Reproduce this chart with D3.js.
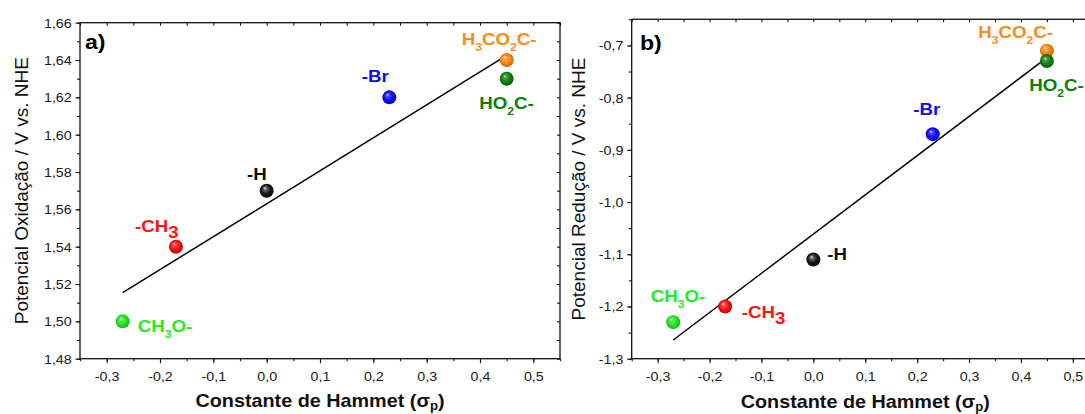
<!DOCTYPE html>
<html>
<head>
<meta charset="utf-8">
<script src="https://cdn.jsdelivr.net/npm/d3@7"></script>
<style>
  html, body { margin: 0; padding: 0; background: #fff; }
  svg { display: block; }
</style>
</head>
<body>
<script>
// ---- data -------------------------------------------------------------
const substituents = ["CH3O-", "-CH3", "-H", "-Br", "H3CO2C-", "HO2C-"];
const hammettSigmaP = [-0.27, -0.17, 0.00, 0.23, 0.45, 0.45];
const oxidationPotential = [1.50, 1.54, 1.57, 1.62, 1.64, 1.63];
const reductionPotential = [-1.23, -1.20, -1.11, -0.87, -0.71, -0.73];

const sigmaTicks = [-0.3, -0.2, -0.1, 0.0, 0.1, 0.2, 0.3, 0.4, 0.5];
const oxidationTicks = [1.48, 1.50, 1.52, 1.54, 1.56, 1.58, 1.60, 1.62, 1.64, 1.66];
const reductionTicks = [-1.3, -1.2, -1.1, -1.0, -0.9, -0.8, -0.7];

const panelLetters = ["a)", "b)"];
const yTitles = ["Potencial Oxidação / V vs. NHE", "Potencial Redução / V vs. NHE"];
const xTitleMain = "Constante de Hammet (σ";
const xTitleSub = "p";
const xTitleEnd = ")";

// ---- styles -------------------------------------------------------------
const FONT = "'Liberation Sans', Arial, Helvetica, sans-serif";
const SX = 1.1; // horizontal text stretch
const markerColor = {
  "CH3O-": "#22e622",
  "-CH3": "#f01010",
  "-H": "#141414",
  "-Br": "#0a0af5",
  "H3CO2C-": "#ff8412",
  "HO2C-": "#0c7f0c"
};
const labelColor = {
  "CH3O-": "#22ee22",
  "-CH3": "#ff1414",
  "-H": "#111111",
  "-Br": "#0a0aff",
  "H3CO2C-": "#ff8a1a",
  "HO2C-": "#0a800a"
};
// subscript size for each label (the methyl label uses a full-size digit)
const subSize = { "-CH3": 17 };

const locale = d3.formatLocale({
  decimal: ",", thousands: ".", grouping: [3], currency: ["", ""], minus: "-"
});

const panels = [
  {
    values: oxidationPotential,
    yTicks: oxidationTicks,
    yDomain: [1.48, 1.66],
    yMinorStep: 0.01,
    yFormat: locale.format(".2f"),
    xRange: [80, 560],
    yRange: [358.7, 22.7],
    letter: panelLetters[0],
    letterPos: [85, 49],
    yTitle: yTitles[0],
    yTitleX: 28,
    xTitleY: 407,
    labelOffset: {
      "CH3O-": [15, 10.4],
      "-CH3": [-41, -15],
      "-H": [-19.7, -10.5],
      "-Br": [-27.6, -15.6],
      "H3CO2C-": [-45, -15],
      "HO2C-": [-27.4, 30.6]
    }
  },
  {
    values: reductionPotential,
    yTicks: reductionTicks,
    yDomain: [-1.3, -0.65],
    yMinorStep: 0.05,
    yFormat: locale.format(".1f"),
    xRange: [631.7, 1098.8],
    yRange: [358.7, 19.3],
    letter: panelLetters[1],
    letterPos: [640, 50],
    yTitle: yTitles[1],
    yTitleX: 585,
    xTitleY: 408,
    labelOffset: {
      "CH3O-": [-22.5, -20],
      "-CH3": [16.6, 12],
      "-H": [14, 1],
      "-Br": [-19.4, -19],
      "H3CO2C-": [-68.6, -13],
      "HO2C-": [-17.6, 30]
    }
  }
];

const svg = d3.select("body").append("svg")
  .attr("width", 1085).attr("height", 414)
  .attr("font-family", FONT);

// shaded sphere gradients
const defs = svg.append("defs");
substituents.forEach((s, i) => {
  const c = markerColor[s];
  const g = defs.append("radialGradient").attr("id", "ball" + i)
    .attr("cx", "50%").attr("cy", "50%").attr("r", "55%")
    .attr("fx", "36%").attr("fy", "30%");
  const light = s === "-H" ? "#e0e0e0" : d3.interpolateRgb(c, "#ffffff")(0.8);
  g.append("stop").attr("offset", "0%").attr("stop-color", light);
  g.append("stop").attr("offset", "22%").attr("stop-color", d3.interpolateRgb(c, "#ffffff")(s === "-H" ? 0.35 : 0.25));
  g.append("stop").attr("offset", "60%").attr("stop-color", c);
  g.append("stop").attr("offset", "100%").attr("stop-color", d3.color(c).darker(0.9));
});

function stretchedText(parent, x, y, extra) {
  return parent.append("text")
    .attr("transform", `translate(${x},${y}) scale(${SX},1)` + (extra || ""));
}

function chemLabel(parent, name, x, y) {
  const t = stretchedText(parent, x, y)
    .attr("font-size", 17).attr("font-weight", "bold")
    .attr("fill", labelColor[name]);
  const parts = name.match(/\d+|\D+/g);
  const shift = 6;
  let lowered = false;
  parts.forEach(p => {
    const ts = t.append("tspan").text(p);
    if (/\d/.test(p)) {
      ts.attr("font-size", subSize[name] || 11).attr("dy", shift);
      lowered = true;
    } else if (lowered) {
      ts.attr("dy", -shift);
      lowered = false;
    }
  });
}

panels.forEach(p => {
  const g = svg.append("g");
  const x = d3.scaleLinear().domain([-0.35, 0.55]).range(p.xRange);
  const y = d3.scaleLinear().domain(p.yDomain).range(p.yRange);
  const [x0, x1] = p.xRange;
  const [yb, yt] = p.yRange;

  const xMinor = d3.range(-0.35, 0.5501, 0.05);
  const yMinor = d3.range(p.yDomain[0], p.yDomain[1] + p.yMinorStep / 2, p.yMinorStep);

  const noDomain = sel => sel.select(".domain").remove();
  const tickStyle = sel => sel.selectAll("line").attr("stroke", "#1a1a1a").attr("stroke-width", 1.1);

  // bottom axis: minor and labelled major ticks, pointing outward
  g.append("g").attr("transform", `translate(0,${yb})`)
    .call(d3.axisBottom(x).tickValues(xMinor).tickSize(2.5).tickFormat(""))
    .call(noDomain).call(tickStyle);
  const bx = g.append("g").attr("transform", `translate(0,${yb})`)
    .call(d3.axisBottom(x).tickValues(sigmaTicks).tickSize(4.5).tickFormat(locale.format(".1f")))
    .call(noDomain).call(tickStyle);
  bx.selectAll("text")
    .attr("y", 22).attr("dy", null)
    .attr("transform", `scale(${SX},1)`)
    .attr("font-family", FONT).attr("font-size", 13).attr("fill", "#1a1a1a");

  // top axis: inward ticks
  g.append("g").attr("transform", `translate(0,${yt})`)
    .call(d3.axisTop(x).tickValues(xMinor).tickSize(-3).tickFormat(""))
    .call(noDomain).call(tickStyle);

  // left axis: minor and labelled major ticks, pointing outward
  g.append("g").attr("transform", `translate(${x0},0)`)
    .call(d3.axisLeft(y).tickValues(yMinor).tickSize(3).tickFormat(""))
    .call(noDomain).call(tickStyle);
  const ly = g.append("g").attr("transform", `translate(${x0},0)`)
    .call(d3.axisLeft(y).tickValues(p.yTicks).tickSize(4.5).tickFormat(p.yFormat))
    .call(noDomain).call(tickStyle);
  ly.selectAll("text")
    .attr("x", -7.5).attr("dy", "0.34em")
    .attr("transform", `scale(${SX},1)`)
    .attr("font-family", FONT).attr("font-size", 13).attr("fill", "#1a1a1a");

  // right axis: inward ticks
  g.append("g").attr("transform", `translate(${x1},0)`)
    .call(d3.axisRight(y).tickValues(yMinor).tickSize(-3).tickFormat(""))
    .call(noDomain).call(tickStyle);

  // frame
  g.append("rect")
    .attr("x", x0).attr("y", yt)
    .attr("width", x1 - x0).attr("height", yb - yt)
    .attr("fill", "none").attr("stroke", "#111").attr("stroke-width", 1.3);

  // least-squares fit line
  const mx = d3.mean(hammettSigmaP);
  const my = d3.mean(p.values);
  const sxy = d3.sum(hammettSigmaP, (v, i) => (v - mx) * (p.values[i] - my));
  const sxx = d3.sum(hammettSigmaP, v => (v - mx) * (v - mx));
  const slope = sxy / sxx;
  const fitX = d3.extent(hammettSigmaP);
  g.append("path")
    .datum(fitX.map(v => [v, my + slope * (v - mx)]))
    .attr("d", d3.line().x(d => x(d[0])).y(d => y(d[1])))
    .attr("fill", "none").attr("stroke", "#000").attr("stroke-width", 1.5);

  // data points as shaded spheres
  substituents.forEach((s, i) => {
    g.append("circle")
      .attr("cx", x(hammettSigmaP[i])).attr("cy", y(p.values[i]))
      .attr("r", 7)
      .attr("fill", `url(#ball${i})`);
  });

  // substituent labels
  substituents.forEach((s, i) => {
    const [dx, dy] = p.labelOffset[s];
    chemLabel(g, s, x(hammettSigmaP[i]) + dx, y(p.values[i]) + dy);
  });

  // panel letter
  stretchedText(g, p.letterPos[0], p.letterPos[1])
    .attr("font-size", 21).attr("font-weight", "bold").attr("fill", "#000")
    .text(p.letter);

  // axis titles
  const xt = stretchedText(g, (x0 + x1) / 2, p.xTitleY)
    .attr("text-anchor", "middle")
    .attr("font-size", 18).attr("font-weight", "bold").attr("fill", "#111");
  xt.append("tspan").text(xTitleMain);
  xt.append("tspan").attr("font-size", 12).attr("dy", 3).text(xTitleSub);
  xt.append("tspan").attr("dy", -3).text(xTitleEnd);

  g.append("text")
    .attr("transform", `translate(${p.yTitleX},${(yb + yt) / 2}) rotate(-90)`)
    .attr("text-anchor", "middle")
    .attr("font-size", 19).attr("fill", "#111")
    .text(p.yTitle);
});
</script>
</body>
</html>
